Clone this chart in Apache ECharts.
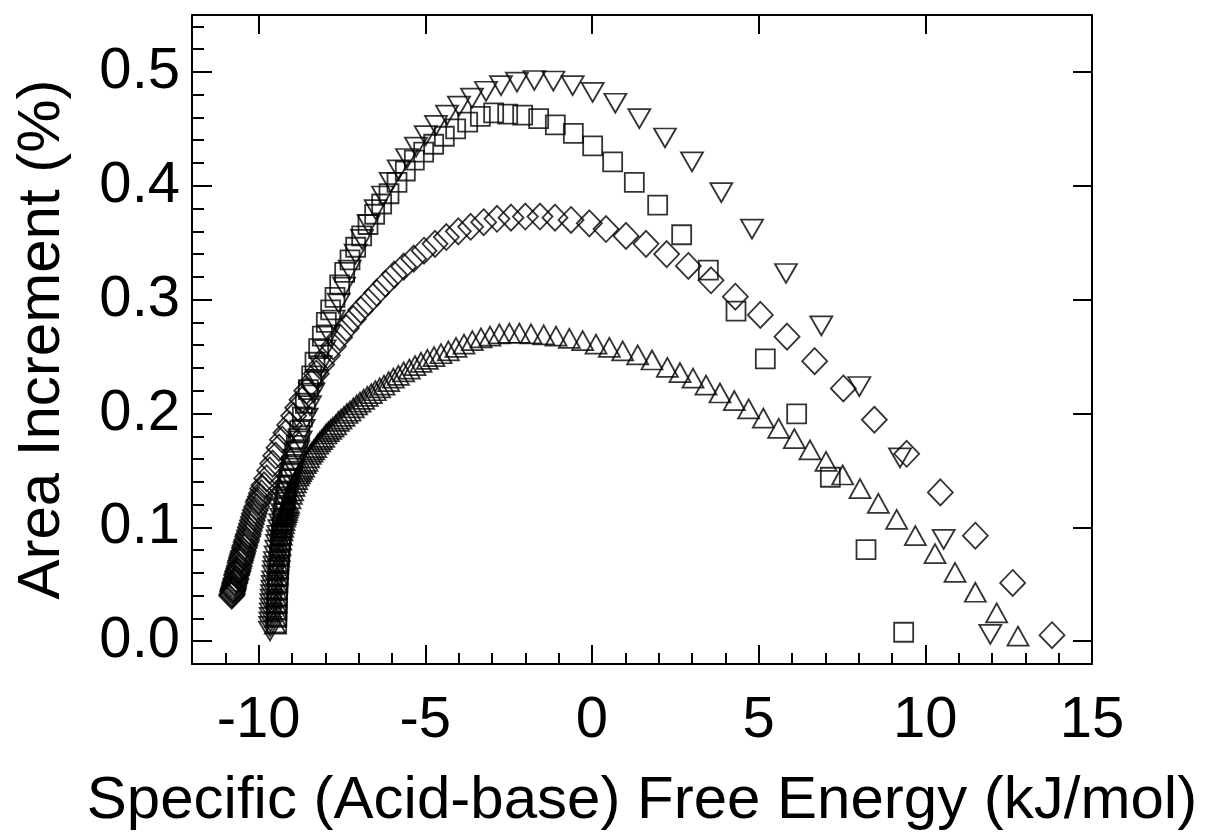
<!DOCTYPE html>
<html>
<head>
<meta charset="utf-8">
<script src="https://cdn.jsdelivr.net/npm/echarts@6/dist/echarts.min.js"></script>
<style>
html,body{margin:0;padding:0;background:#fff;}
#chart{width:1207px;height:840px;}
</style>
</head>
<body>
<div id="chart"></div>
<script>
// ---- axis settings / tick labels ----
const xTitle = 'Specific (Acid-base) Free Energy (kJ/mol)';
const yTitle = 'Area Increment (%)';
const xMajorTicks = [-10, -5, 0, 5, 10, 15];
const yMajorTicks = [0, 0.1, 0.2, 0.3, 0.4, 0.5];

// ---- series: down triangles ----
const downTriX = [-9.66,-9.655,-9.65,-9.64,-9.635,-9.625,-9.62,-9.61,-9.60,-9.59,-9.58,-9.565,-9.55,-9.54,-9.525,-9.51,-9.49,-9.47,-9.45,-9.43,-9.41,-9.38,-9.35,-9.32,-9.29,-9.26,-9.22,-9.18,-9.14,-9.10,-9.05,-9.00,-8.95,-8.90,-8.82,-8.74,-8.65,-8.56,-8.46,-8.36,-8.25,-8.14,-8.02,-7.89,-7.75,-7.60,-7.44,-7.27,-7.09,-6.90,-6.70,-6.49,-6.27,-6.04,-5.80,-5.55,-5.28,-4.99,-4.68,-4.35,-3.99,-3.60,-3.18,-2.73,-2.25,-1.73,-1.16,-0.58,0.02,0.70,1.42,2.19,3.00,3.88,4.80,5.82,6.88,8.02,9.24,10.55,11.95];
const downTriY = [0.009,0.013,0.017,0.021,0.025,0.029,0.033,0.037,0.041,0.045,0.049,0.053,0.058,0.062,0.066,0.070,0.075,0.080,0.085,0.089,0.093,0.098,0.103,0.108,0.112,0.117,0.122,0.127,0.132,0.137,0.142,0.147,0.152,0.158,0.167,0.176,0.186,0.196,0.207,0.218,0.230,0.242,0.256,0.269,0.282,0.297,0.311,0.326,0.340,0.353,0.366,0.379,0.391,0.403,0.414,0.424,0.434,0.444,0.453,0.462,0.470,0.477,0.483,0.488,0.491,0.4925,0.492,0.488,0.482,0.4725,0.459,0.442,0.421,0.394,0.362,0.323,0.277,0.2237,0.161,0.0895,0.006];

// ---- series: squares ----
const squareX = [-9.46,-9.455,-9.45,-9.445,-9.44,-9.43,-9.42,-9.41,-9.40,-9.385,-9.37,-9.355,-9.34,-9.32,-9.30,-9.28,-9.26,-9.23,-9.20,-9.17,-9.14,-9.10,-9.06,-9.02,-8.97,-8.92,-8.87,-8.82,-8.77,-8.69,-8.60,-8.51,-8.41,-8.31,-8.20,-8.09,-7.97,-7.84,-7.71,-7.57,-7.42,-7.26,-7.09,-6.91,-6.72,-6.52,-6.31,-6.09,-5.85,-5.60,-5.33,-5.05,-4.75,-4.43,-4.09,-3.73,-3.35,-2.95,-2.53,-2.08,-1.60,-1.10,-0.56,0.02,0.62,1.27,1.97,2.69,3.49,4.32,5.20,6.14,7.15,8.22,9.35];
const squareY = [0.016,0.022,0.028,0.034,0.040,0.046,0.052,0.058,0.064,0.070,0.076,0.082,0.088,0.094,0.100,0.106,0.112,0.118,0.124,0.130,0.136,0.142,0.148,0.154,0.160,0.166,0.172,0.178,0.185,0.197,0.209,0.221,0.233,0.245,0.257,0.268,0.280,0.291,0.302,0.313,0.324,0.335,0.346,0.356,0.366,0.375,0.384,0.393,0.403,0.413,0.4225,0.4295,0.4365,0.4435,0.450,0.456,0.461,0.464,0.463,0.462,0.459,0.4535,0.446,0.435,0.421,0.403,0.383,0.357,0.326,0.290,0.248,0.1997,0.144,0.0804,0.0079];

// ---- series: diamonds ----
const diamondX = [-10.81,-10.80,-10.79,-10.78,-10.77,-10.76,-10.75,-10.74,-10.72,-10.71,-10.69,-10.68,-10.66,-10.65,-10.63,-10.62,-10.60,-10.58,-10.56,-10.54,-10.52,-10.50,-10.48,-10.46,-10.43,-10.41,-10.38,-10.36,-10.33,-10.31,-10.28,-10.25,-10.22,-10.19,-10.16,-10.13,-10.10,-10.06,-10.02,-9.99,-9.95,-9.92,-9.88,-9.84,-9.76,-9.67,-9.58,-9.49,-9.39,-9.29,-9.18,-9.07,-8.95,-8.83,-8.70,-8.56,-8.42,-8.27,-8.11,-7.94,-7.76,-7.57,-7.37,-7.16,-6.94,-6.71,-6.46,-6.20,-5.93,-5.65,-5.35,-5.04,-4.71,-4.37,-4.01,-3.64,-3.25,-2.85,-2.43,-2.00,-1.56,-1.11,-0.63,-0.08,0.42,1.02,1.62,2.24,2.89,3.57,4.30,5.05,5.85,6.68,7.54,8.47,9.44,10.45,11.50,12.62,13.80];
const diamondY = [0.040,0.041,0.042,0.044,0.045,0.046,0.047,0.049,0.051,0.052,0.054,0.055,0.058,0.059,0.061,0.062,0.064,0.066,0.069,0.071,0.073,0.075,0.077,0.079,0.082,0.084,0.087,0.089,0.092,0.094,0.097,0.100,0.103,0.106,0.109,0.112,0.115,0.118,0.122,0.124,0.127,0.130,0.134,0.137,0.143,0.150,0.156,0.163,0.170,0.177,0.183,0.190,0.198,0.205,0.212,0.220,0.227,0.235,0.243,0.251,0.259,0.267,0.275,0.283,0.291,0.298,0.306,0.314,0.322,0.329,0.336,0.343,0.349,0.355,0.360,0.364,0.368,0.371,0.372,0.373,0.373,0.372,0.370,0.367,0.362,0.356,0.349,0.340,0.3296,0.317,0.3026,0.2866,0.2675,0.246,0.222,0.1945,0.1646,0.1307,0.0927,0.0512,0.0053];

// ---- series: up triangles ----
const upTriX = [-9.50,-9.495,-9.49,-9.485,-9.48,-9.47,-9.46,-9.45,-9.435,-9.42,-9.40,-9.38,-9.36,-9.34,-9.32,-9.30,-9.28,-9.26,-9.24,-9.22,-9.20,-9.18,-9.16,-9.14,-9.12,-9.10,-9.06,-9.02,-8.98,-8.94,-8.90,-8.86,-8.82,-8.78,-8.74,-8.70,-8.65,-8.60,-8.55,-8.50,-8.45,-8.40,-8.35,-8.29,-8.23,-8.17,-8.11,-8.05,-7.98,-7.91,-7.84,-7.77,-7.69,-7.61,-7.53,-7.44,-7.35,-7.26,-7.16,-7.06,-6.96,-6.85,-6.74,-6.62,-6.50,-6.37,-6.24,-6.10,-5.96,-5.81,-5.65,-5.48,-5.31,-5.13,-4.94,-4.74,-4.53,-4.31,-4.08,-3.84,-3.59,-3.33,-3.06,-2.78,-2.48,-2.18,-1.83,-1.45,-1.08,-0.68,-0.28,0.12,0.52,0.92,1.37,1.80,2.26,2.64,3.03,3.42,3.84,4.27,4.70,5.14,5.60,6.07,6.54,7.02,7.52,8.04,8.59,9.14,9.70,10.29,10.89,11.50,12.14,12.78];
const upTriY = [0.015,0.021,0.027,0.033,0.039,0.045,0.051,0.057,0.063,0.068,0.074,0.079,0.084,0.089,0.093,0.097,0.100,0.103,0.106,0.109,0.111,0.113,0.115,0.117,0.119,0.121,0.125,0.129,0.132,0.136,0.139,0.142,0.145,0.147,0.149,0.151,0.153,0.156,0.158,0.161,0.164,0.166,0.168,0.170,0.173,0.175,0.177,0.179,0.182,0.184,0.186,0.188,0.190,0.193,0.195,0.1975,0.200,0.202,0.205,0.2075,0.210,0.2125,0.215,0.2175,0.220,0.2225,0.225,0.228,0.231,0.2335,0.2365,0.239,0.242,0.245,0.2475,0.250,0.2525,0.255,0.258,0.261,0.264,0.2665,0.268,0.270,0.2705,0.2705,0.270,0.269,0.268,0.266,0.264,0.261,0.258,0.255,0.2515,0.247,0.2405,0.236,0.231,0.225,0.218,0.2114,0.204,0.196,0.187,0.178,0.168,0.158,0.146,0.134,0.121,0.107,0.0927,0.0769,0.0605,0.043,0.0249,0.0044];

function pairs(xs, ys) { return xs.map((x, i) => [x, ys[i]]); }

const FONT = '"Liberation Sans", Arial, Helvetica, sans-serif';
const lineStyle = { color: '#000', width: 2 };
const markerStyle = { color: 'rgba(0,0,0,0)', borderColor: '#000', borderWidth: 1.8 };

const chart = echarts.init(document.getElementById('chart'), null, { renderer: 'canvas' });
const gridRect = { left: 192, top: 15, width: 900, height: 649, containLabel: false };

const option = {
  backgroundColor: '#fff',
  animation: false,
  grid: [Object.assign({}, gridRect), Object.assign({}, gridRect)],
  xAxis: [
    {
      type: 'value', gridIndex: 0, position: 'bottom', min: -12, max: 15,
      axisLine: { show: true, onZero: false, lineStyle },
      axisTick: { show: true, inside: true, length: 19, customValues: xMajorTicks, lineStyle },
      axisLabel: { show: true, customValues: xMajorTicks, margin: 28, fontSize: 58, color: '#000', fontFamily: FONT,
                   formatter: v => String(v) },
      splitLine: { show: false },
      name: xTitle, nameLocation: 'middle', nameGap: 107,
      nameTextStyle: { fontSize: 60, color: '#000', fontFamily: FONT }
    },
    {
      type: 'value', gridIndex: 0, position: 'top', min: -12, max: 15,
      axisLine: { show: true, onZero: false, lineStyle },
      axisTick: { show: true, inside: true, length: 19, customValues: xMajorTicks, lineStyle },
      axisLabel: { show: false },
      splitLine: { show: false }
    },
    {
      type: 'value', gridIndex: 1, position: 'bottom', min: -12, max: 15, interval: 1,
      axisLine: { show: false, onZero: false },
      axisTick: { show: true, inside: true, length: 11, lineStyle },
      axisLabel: { show: false },
      splitLine: { show: false }
    }
  ],
  yAxis: [
    {
      type: 'value', gridIndex: 0, position: 'left', min: -0.02, max: 0.55,
      axisLine: { show: true, onZero: false, lineStyle },
      axisTick: { show: true, inside: true, length: 20, customValues: yMajorTicks, lineStyle },
      axisLabel: { show: true, customValues: yMajorTicks, margin: 12, fontSize: 58, color: '#000', fontFamily: FONT,
                   formatter: v => v.toFixed(1) },
      splitLine: { show: false },
      name: yTitle, nameLocation: 'middle', nameGap: 120,
      nameTextStyle: { fontSize: 60, color: '#000', fontFamily: FONT }
    },
    {
      type: 'value', gridIndex: 0, position: 'right', min: -0.02, max: 0.55,
      axisLine: { show: true, onZero: false, lineStyle },
      axisTick: { show: true, inside: true, length: 19, customValues: yMajorTicks, lineStyle },
      axisLabel: { show: false },
      splitLine: { show: false }
    },
    {
      type: 'value', gridIndex: 1, position: 'left', min: -0.02, max: 0.55, interval: 0.02,
      axisLine: { show: false, onZero: false },
      axisTick: { show: true, inside: true, length: 12, lineStyle },
      axisLabel: { show: false },
      splitLine: { show: false }
    }
  ],
  series: [
    { type: 'scatter', xAxisIndex: 0, yAxisIndex: 0, data: pairs(upTriX, upTriY),
      symbol: 'triangle', symbolSize: [21, 19], itemStyle: markerStyle, silent: true },
    { type: 'scatter', xAxisIndex: 0, yAxisIndex: 0, data: pairs(diamondX, diamondY),
      symbol: 'diamond', symbolSize: [25, 26], itemStyle: markerStyle, silent: true },
    { type: 'scatter', xAxisIndex: 0, yAxisIndex: 0, data: pairs(squareX, squareY),
      symbol: 'rect', symbolSize: [19, 19], itemStyle: markerStyle, silent: true },
    { type: 'scatter', xAxisIndex: 0, yAxisIndex: 0, data: pairs(downTriX, downTriY),
      symbol: 'triangle', symbolRotate: 180, symbolSize: [22, 19], itemStyle: markerStyle, silent: true }
  ]
};
chart.setOption(option);
</script>
</body>
</html>
